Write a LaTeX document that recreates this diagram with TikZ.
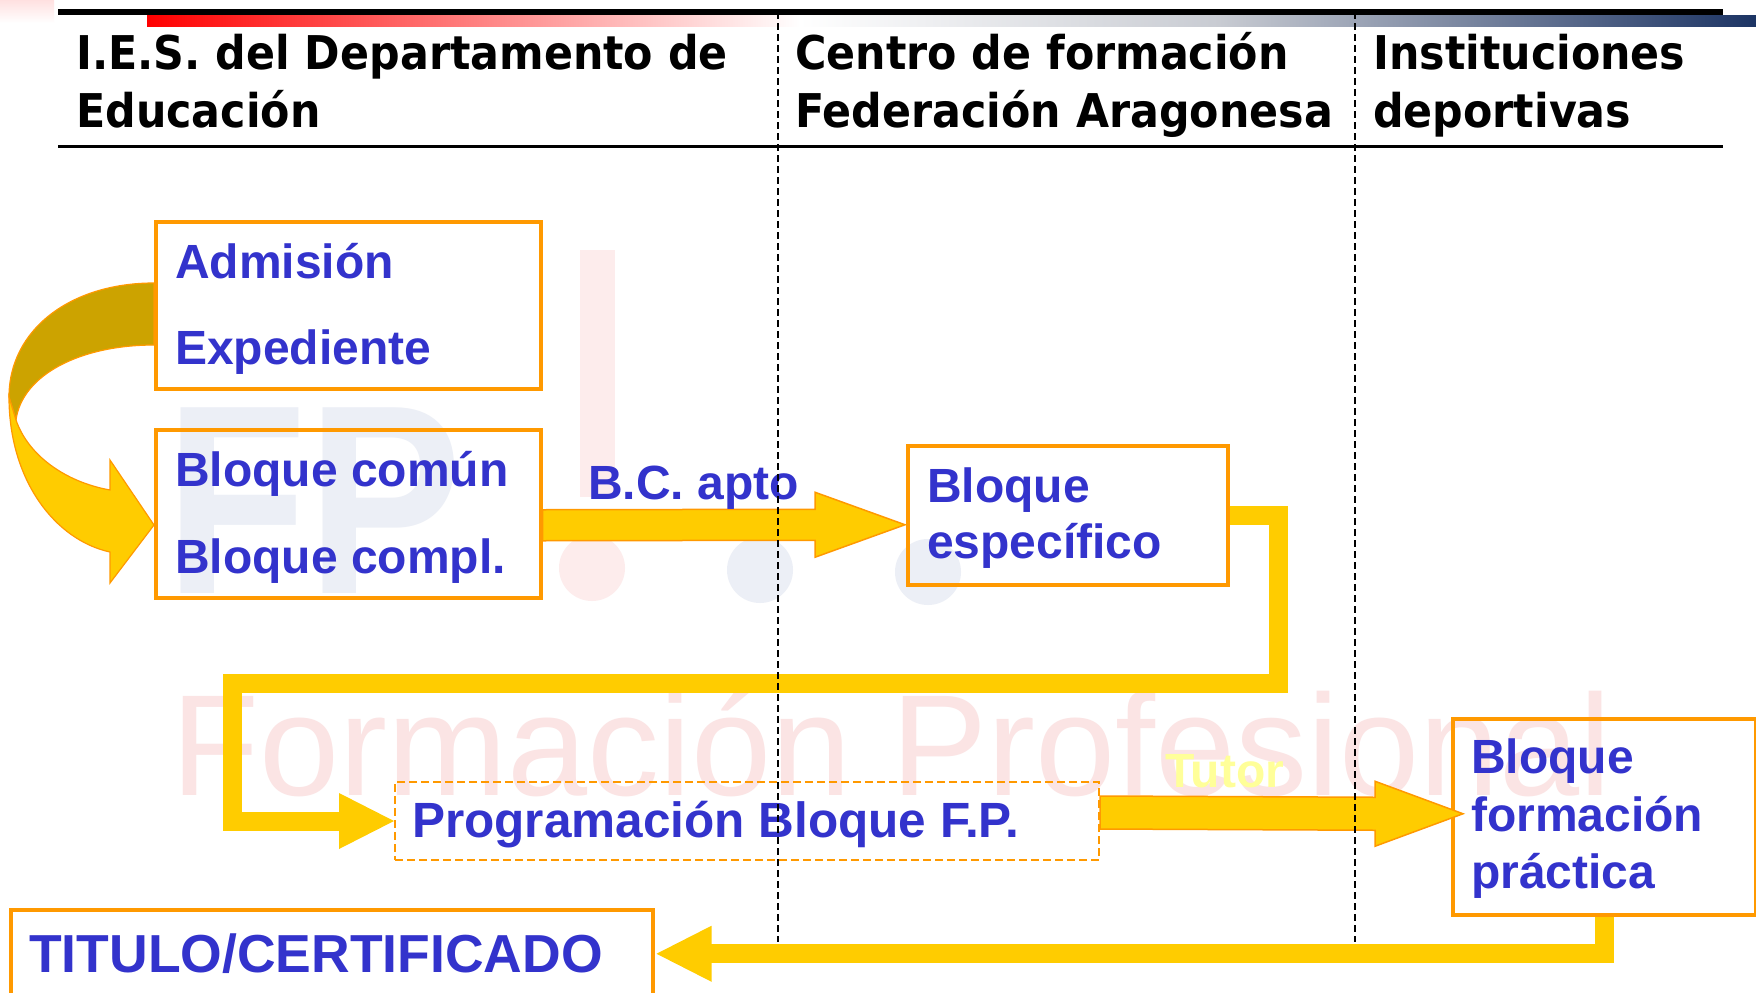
\documentclass[tikz,border=0pt]{standalone}
\usepackage{fontspec}
\setmainfont{Liberation Sans}
\newfontfamily\hdrfont[FakeStretch=0.92]{DejaVu Sans}
\usetikzlibrary{calc}
\definecolor{borange}{RGB}{255,153,0}
\definecolor{byellow}{RGB}{255,204,0}
\definecolor{bgold}{RGB}{204,163,0}
\definecolor{bblue}{RGB}{51,51,204}
\definecolor{btutor}{RGB}{255,255,153}
\definecolor{wmpink}{RGB}{251,228,228}
\definecolor{wmpinkb}{RGB}{253,236,236}
\definecolor{wmblue}{RGB}{236,239,246}
\definecolor{barnavy}{RGB}{28,52,100}
\definecolor{bargrey}{RGB}{200,203,210}
\newcommand\bodyfont{\bfseries\fontsize{48}{48}\selectfont}
\newcommand\harrow[5]{\filldraw[blockarrow] ($(#1)+(0,-#3)$) -- ($(#2)+(-#5,-#3)$) -- ($(#2)+(-#5,-#4)$) -- (#2) -- ($(#2)+(-#5,#4)$) -- ($(#2)+(-#5,#3)$) -- ($(#1)+(0,#3)$) -- cycle;}
\tikzset{
 obox/.style={draw=borange, line width=3.5pt, inner sep=0pt, anchor=north west},
 dbox/.style={draw=borange, line width=2pt, dash pattern=on 8pt off 4pt, inner sep=0pt, anchor=north west},
 lbl/.style={anchor=base west, inner sep=0pt, text=bblue, font=\bodyfont},
 hdr/.style={anchor=base west, inner sep=0pt, font=\hdrfont\bfseries\fontsize{46.5}{46.5}\selectfont},
 blockarrow/.style={fill=byellow, draw=borange, line width=1.5pt},
 ribbon/.style={draw=byellow, line width=19pt},
 lane/.style={draw=black, line width=2pt, dash pattern=on 7pt off 4pt},
 curvepart/.style={draw=borange, line width=1.2pt},
}
\begin{document}
\begin{tikzpicture}[x=1pt,y=-1pt]
\useasboundingbox (0,0) rectangle (1756,993);
\fill[white] (0,0) rectangle (1756,993);
% watermark
\node[anchor=base west, inner sep=0pt, text=wmblue, font=\bfseries\fontsize{270}{270}\selectfont] (wmfp) at (165,593) {\scalebox{0.86}[1]{FP}};
\fill[wmpinkb] (580,250) rectangle (615,497);
\fill[wmpinkb] (592,568) circle (33);
\fill[wmblue] (760,570) circle (33);
\fill[wmblue] (928,572) circle (33);
\node[anchor=base west, inner sep=0pt, text=wmpink, font=\fontsize{144}{144}\selectfont] (wmfor) at (171,795) {Formación Profesional};
% top decoration
\shade[top color=red!12, bottom color=white] (0,0) rectangle (54,23);
\shade[left color=red, right color=white] (147,15) rectangle (800,26);
\shade[left color=white, right color=bargrey] (799,15) rectangle (1220,26);
\shade[left color=bargrey, right color=barnavy] (1219,15) rectangle (1756,26);
\coordinate (tl) at (58,11.75);
\coordinate (tr) at (1723,11.75);
\coordinate (bl) at (58,146);
\coordinate (br) at (1723,146);
\draw[line width=6.5pt] (tl) -- (tr);
\draw[line width=3pt] (bl) -- (br);
% headers
\node[hdr] (h1a) at (76,69) {I.E.S. del Departamento de};
\node[hdr] (h1b) at (76,127) {Educación};
\node[hdr] (h2a) at (795,69) {Centro de formación};
\node[hdr] (h2b) at (795,127) {Federación Aragonesa};
\node[hdr] (h3a) at (1373,69) {Instituciones};
\node[hdr] (h3b) at (1373,127) {deportivas};
% curved arrow
\filldraw[curvepart, fill=bgold] (154,283) .. controls (70,283) and (9,330) .. (9,397) -- (16,420) .. controls (22,375) and (80,345) .. (154,345) -- cycle;
\filldraw[curvepart, fill=byellow] (9,397) .. controls (9,480) and (55,540) .. (110,552) -- (110,583) -- (154,525) -- (110,460) -- (110,490) .. controls (65,482) and (28,455) .. (16,420) -- cycle;
% boxes
\node[obox, minimum width=385pt, minimum height=167pt] (adm) at (154,220) {};
\node[obox, minimum width=385pt, minimum height=168pt] (bcom) at (154,428) {};
\node[obox, minimum width=320pt, minimum height=139pt] (besp) at (906,444) {};
\node[dbox, minimum width=704pt, minimum height=78pt] (prog) at (394,781) {};
\node[obox, minimum width=303pt, minimum height=196pt] (bfp) at (1451,717) {};
\node[obox, minimum width=642pt, minimum height=110pt] (tit) at (9,908) {};
% block arrows
\path (bcom.east) ++(0,11.5) coordinate (a1s);
\path (besp.west) ++(-1,9.5) coordinate (a1t);
\harrow{a1s}{a1t}{15.5}{32.5}{90}
\path (prog.east) ++(0,-8.5) coordinate (a2s);
\path (bfp.west) ++(12,-3) coordinate (a2t);
\harrow{a2s}{a2t}{16.5}{32.5}{88}
% elbow connectors
\draw[ribbon] (besp.east) -| ($(besp.east)+(48.5,168)$) -| ($(prog.west)+(-162,0)$) -- ($(prog.west)+(-54,0)$);
\fill[byellow] (prog.west) -- ++(-55,-28) -- ++(0,56) -- cycle;
\coordinate (t2) at ($(tit.east)+(2,-11)$);
\draw[ribbon] (bfp.south) |- ($(t2)+(54,0)$);
\fill[byellow] (t2) -- ++(55,-28) -- ++(0,56) -- cycle;
% texts
\node[lbl] (tadm) at (175,278) {Admisión};
\node[lbl] (texp) at (175,364) {Expediente};
\node[lbl] (tbc) at (175,486) {Bloque común};
\node[lbl] (tbcp) at (175,573) {Bloque compl.};
\node[lbl] (tapto) at (588,499) {B.C. apto};
\node[lbl] (tbe1) at (927,502) {Bloque};
\node[lbl] (tbe2) at (927,558) {específico};
\node[lbl, font=\bfseries\fontsize{49.5}{49.5}\selectfont] (tprog) at (412,837) {Programación Bloque F.P.};
\node[lbl, text=btutor] (ttutor) at (1165,787) {Tutor};
\node[lbl] (tbf1) at (1471,773) {Bloque};
\node[lbl] (tbf2) at (1471,831) {formación};
\node[lbl] (tbf3) at (1471,888) {práctica};
\node[lbl, font=\bfseries\fontsize{53.5}{53.5}\selectfont] (ttit) at (29,972) {TITULO/CERTIFICADO};
% lanes
\coordinate (l1t) at (778,12);
\coordinate (l1b) at (778,942);
\coordinate (l2t) at (1355,12);
\coordinate (l2b) at (1355,942);
\draw[lane] (l1t) -- (l1b);
\draw[lane] (l2t) -- (l2b);
\end{tikzpicture}
\end{document}
